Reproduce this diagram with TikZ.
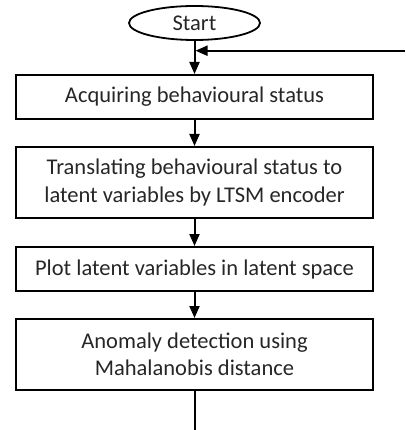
\documentclass[tikz,border=0pt]{standalone}
\usepackage{fontspec}
\setmainfont{Carlito}
\usetikzlibrary{shapes.geometric,arrows.meta}
\begin{document}
\begin{tikzpicture}[x=1pt,y=-1pt,
  every node/.style={font=\fontsize{22.5}{27.5}\selectfont, text=black!85, align=center, inner sep=0pt},
  stepbox/.style={draw=black, line width=2pt, rectangle, minimum width=357pt},
  terminal/.style={draw=black, line width=1.8pt, ellipse, minimum width=131pt, minimum height=34pt},
  flow/.style={line width=2pt, -{Triangle[length=12pt,width=10pt]}},
  plain/.style={line width=2pt}]
  \useasboundingbox (0,0) rectangle (405,430);

  \node[terminal] (start) at (194.5,23) {Start};
  \node[stepbox, minimum height=44pt] (acq) at (194.5,97) {Acquiring behavioural status};
  \node[stepbox, minimum height=71pt] (enc) at (194.5,182.5) {Translating behavioural status to\\latent variables by LTSM encoder};
  \node[stepbox, minimum height=44pt] (plot) at (194.5,269) {Plot latent variables in latent space};
  \node[stepbox, minimum height=71pt] (det) at (194.5,354.5) {Anomaly detection using\\Mahalanobis distance};

  \coordinate (join) at (194.5,50.7);
  \coordinate (loop) at (405,50.7);
  \coordinate (out) at (194.5,430);

  \draw[flow] (start) -- (acq);
  \draw[flow] (loop) -- ([xshift=1pt]join);
  \draw[flow] (acq) -- (enc);
  \draw[flow] (enc) -- (plot);
  \draw[flow] (plot) -- (det);
  \draw[plain] (det) -- (out);
\end{tikzpicture}
\end{document}
